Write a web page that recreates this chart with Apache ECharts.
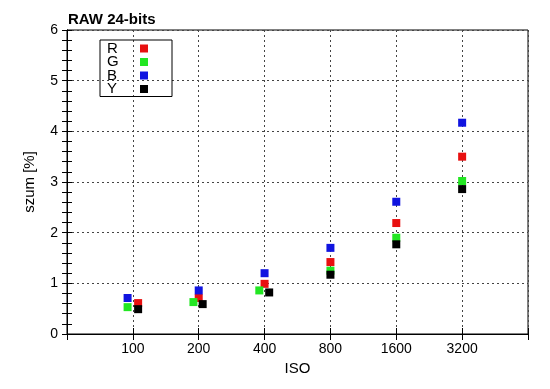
<!DOCTYPE html>
<html>
<head>
    <meta charset="utf-8">
    <script src="https://cdn.jsdelivr.net/npm/echarts@6/dist/echarts.min.js"></script>
    <style>
        body { margin: 0; background: #fff; }
    </style>
</head>
<body>
    <div id="main" style="width: 550px;height:389px;"></div>
    <script>
        // ISO categories on the x axis
        var isoLabels = ['100', '200', '400', '800', '1600', '3200'];

        // noise values [%] per channel
        var rVals = [0.61, 0.71, 0.99, 1.42, 2.19, 3.50];
        var gVals = [0.53, 0.63, 0.86, 1.25, 1.90, 3.02];
        var bVals = [0.71, 0.86, 1.20, 1.70, 2.61, 4.17];
        var yVals = [0.49, 0.59, 0.82, 1.17, 1.77, 2.86];

        // small horizontal shift of points in the original plot (category units)
        var rShift = [0.08, 0, 0, 0, 0, 0];
        var gShift = [-0.08, -0.08, -0.08, 0, 0, 0];
        var bShift = [-0.08, 0, 0, 0, 0, 0];
        var yShift = [0.08, 0.06, 0.07, 0, 0, 0];

        function points(vals, shift) {
            return vals.map(function (v, i) {
                return [i + 1 + shift[i], v];
            });
        }

        function isoLabel(v) {
            var i = Math.round(v) - 1;
            return (i >= 0 && i < isoLabels.length) ? isoLabels[i] : '';
        }

        var font = 'Liberation Sans';
        var myChart = echarts.init(document.getElementById('main'));

        var series = [
            { name: 'R', data: points(rVals, rShift), color: '#e81010' },
            { name: 'G', data: points(gVals, gShift), color: '#22e622' },
            { name: 'B', data: points(bVals, bShift), color: '#1014e0' },
            { name: 'Y', data: points(yVals, yShift), color: '#000000' }
        ].map(function (s) {
            return {
                name: s.name,
                type: 'scatter',
                symbol: 'rect',
                symbolSize: 8,
                itemStyle: { color: s.color, opacity: 1 },
                data: s.data
            };
        });

        var option = {
            animation: false,
            title: {
                text: 'RAW 24-bits',
                left: 63,
                top: 7,
                textStyle: { fontFamily: font, fontSize: 15, fontWeight: 'bold', color: '#000' }
            },
            legend: {
                left: 100,
                top: 40,
                orient: 'vertical',
                align: 'right',
                itemWidth: 8,
                itemHeight: 8,
                itemGap: -1.5,
                padding: [1, 24, 0, 7],
                borderColor: '#000',
                borderWidth: 1,
                formatter: function (name) {
                    return '{a|' + name + '}';
                },
                textStyle: {
                    fontFamily: font,
                    fontSize: 15,
                    color: '#000',
                    rich: {
                        a: { fontFamily: font, fontSize: 15, color: '#000', width: 28, height: 13.7, lineHeight: 13.7, align: 'left' }
                    }
                },
                data: ['R', 'G', 'B', 'Y']
            },
            grid: {
                left: 67,
                right: 22,
                top: 30,
                bottom: 55,
                show: true,
                borderColor: '#000',
                borderWidth: 1
            },
            xAxis: [{
                type: 'value',
                min: 0,
                max: 7,
                interval: 1,
                name: 'ISO',
                nameLocation: 'middle',
                nameGap: 27,
                nameTextStyle: { fontFamily: font, fontSize: 15, color: '#000' },
                axisLine: { lineStyle: { color: '#000' } },
                axisTick: { inside: true, length: 6, lineStyle: { color: '#000' } },
                axisLabel: { formatter: isoLabel, margin: 8, fontFamily: font, fontSize: 14, color: '#000' },
                splitLine: { show: true, lineStyle: { type: [2, 3], color: '#444' } }
            }, {
                type: 'value',
                position: 'top',
                min: 0,
                max: 7,
                interval: 1,
                axisLine: { lineStyle: { color: '#000' } },
                axisTick: { inside: true, length: 6, lineStyle: { color: '#000' } },
                axisLabel: { show: false },
                splitLine: { show: false }
            }],
            yAxis: [{
                type: 'value',
                min: 0,
                max: 6,
                interval: 1,
                name: 'szum [%]',
                nameLocation: 'middle',
                nameGap: 30,
                nameTextStyle: { fontFamily: font, fontSize: 15, color: '#000' },
                axisLine: { show: true, lineStyle: { color: '#000' } },
                axisTick: { inside: true, length: 5, lineStyle: { color: '#000' } },
                minorTick: { show: true, splitNumber: 5, length: -5, lineStyle: { color: '#000' } },
                axisLabel: { margin: 9, fontFamily: font, fontSize: 14, color: '#000' },
                splitLine: { show: true, lineStyle: { type: [2, 3], color: '#444' } }
            }, {
                type: 'value',
                position: 'right',
                min: 0,
                max: 6,
                interval: 1,
                axisLine: { show: true, lineStyle: { color: '#000' } },
                axisTick: { inside: true, length: 5, lineStyle: { color: '#000' } },
                minorTick: { show: true, splitNumber: 5, length: -5, lineStyle: { color: '#000' } },
                axisLabel: { show: false },
                splitLine: { show: false }
            }],
            series: series
        };

        myChart.setOption(option);
    </script>
</body>
</html>
